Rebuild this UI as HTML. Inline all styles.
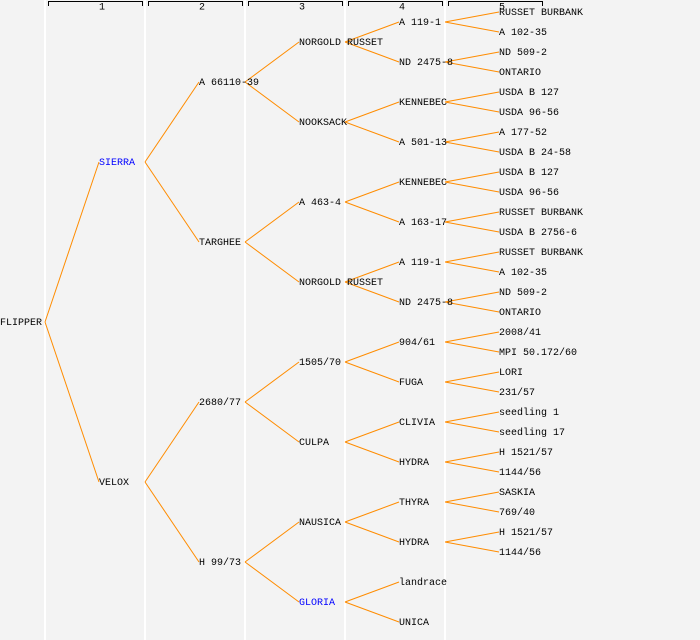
<!DOCTYPE html>
<html><head><style>
html,body{margin:0;padding:0;background:#f3f3f3}
svg{display:block}
text{font-family:"Liberation Mono","DejaVu Sans Mono",monospace;font-size:10px;fill:#000;dominant-baseline:central}
</style></head><body>
<svg width="700" height="640" xmlns="http://www.w3.org/2000/svg">
<rect width="700" height="640" fill="#f3f3f3"/>
<g stroke="#fff" stroke-width="2">
<line x1="45" y1="0" x2="45" y2="640"/><line x1="145" y1="0" x2="145" y2="640"/><line x1="245" y1="0" x2="245" y2="640"/><line x1="345" y1="0" x2="345" y2="640"/><line x1="445" y1="0" x2="445" y2="640"/>
</g>
<g stroke="#000" stroke-width="1" fill="none">
<path d="M48.5 6V1.5H142.5V6"/><path d="M148.5 6V1.5H242.5V6"/><path d="M248.5 6V1.5H342.5V6"/><path d="M348.5 6V1.5H442.5V6"/><path d="M448.5 6V1.5H542.5V6"/>
</g>
<g style="font-size:8px" text-anchor="middle">
<text x="102" y="8">1</text><text x="202" y="8">2</text><text x="302" y="8">3</text><text x="402" y="8">4</text><text x="502" y="8">5</text>
</g>
<g id="lines" stroke="#ff8c00" stroke-width="1"></g>
<g id="labels"></g>
<script>
var tree=["FLIPPER",[["SIERRA*",[["A 66110-39",[["NORGOLD RUSSET",[["A 119-1",[["RUSSET BURBANK"],["A 102-35"]]],["ND 2475-8",[["ND 509-2"],["ONTARIO"]]]]],["NOOKSACK",[["KENNEBEC",[["USDA B 127"],["USDA 96-56"]]],["A 501-13",[["A 177-52"],["USDA B 24-58"]]]]]]],["TARGHEE",[["A 463-4",[["KENNEBEC",[["USDA B 127"],["USDA 96-56"]]],["A 163-17",[["RUSSET BURBANK"],["USDA B 2756-6"]]]]],["NORGOLD RUSSET",[["A 119-1",[["RUSSET BURBANK"],["A 102-35"]]],["ND 2475-8",[["ND 509-2"],["ONTARIO"]]]]]]]]],
["VELOX",[["2680/77",[["1505/70",[["904/61",[["2008/41"],["MPI 50.172/60"]]],["FUGA",[["LORI"],["231/57"]]]]],["CULPA",[["CLIVIA",[["seedling 1"],["seedling 17"]]],["HYDRA",[["H 1521/57"],["1144/56"]]]]]]],["H 99/73",[["NAUSICA",[["THYRA",[["SASKIA"],["769/40"]]],["HYDRA",[["H 1521/57"],["1144/56"]]]]],["GLORIA*",[["landrace"],["UNICA"]]]]]]]]];
var leafY=12, NS="http://www.w3.org/2000/svg";
var L=document.getElementById("lines"),T=document.getElementById("labels");
function place2(n,d){
 var y;
 if(n[1]){var ys=n[1].map(function(c){return place2(c,d+1)});y=(ys[0]+ys[ys.length-1])/2;
  ys.forEach(function(cy){var l=document.createElementNS(NS,"line");l.setAttribute("x1",100*d+45);l.setAttribute("y1",y);l.setAttribute("x2",100*(d+1)-1);l.setAttribute("y2",cy);L.appendChild(l);});}
 else{ if(d==4){y=leafY+10;leafY+=40;}else{y=leafY;leafY+=20;} }
 var t=document.createElementNS(NS,"text");var name=n[0];
 if(name.slice(-1)=="*"){name=name.slice(0,-1);t.setAttribute("style","fill:#0000ff");}
 t.setAttribute("x",d==0?0:100*d-1);t.setAttribute("y",y+1.5);t.textContent=name;T.appendChild(t);
 return y;
}
place2(tree,0);
</script>
</svg>
</body></html>
